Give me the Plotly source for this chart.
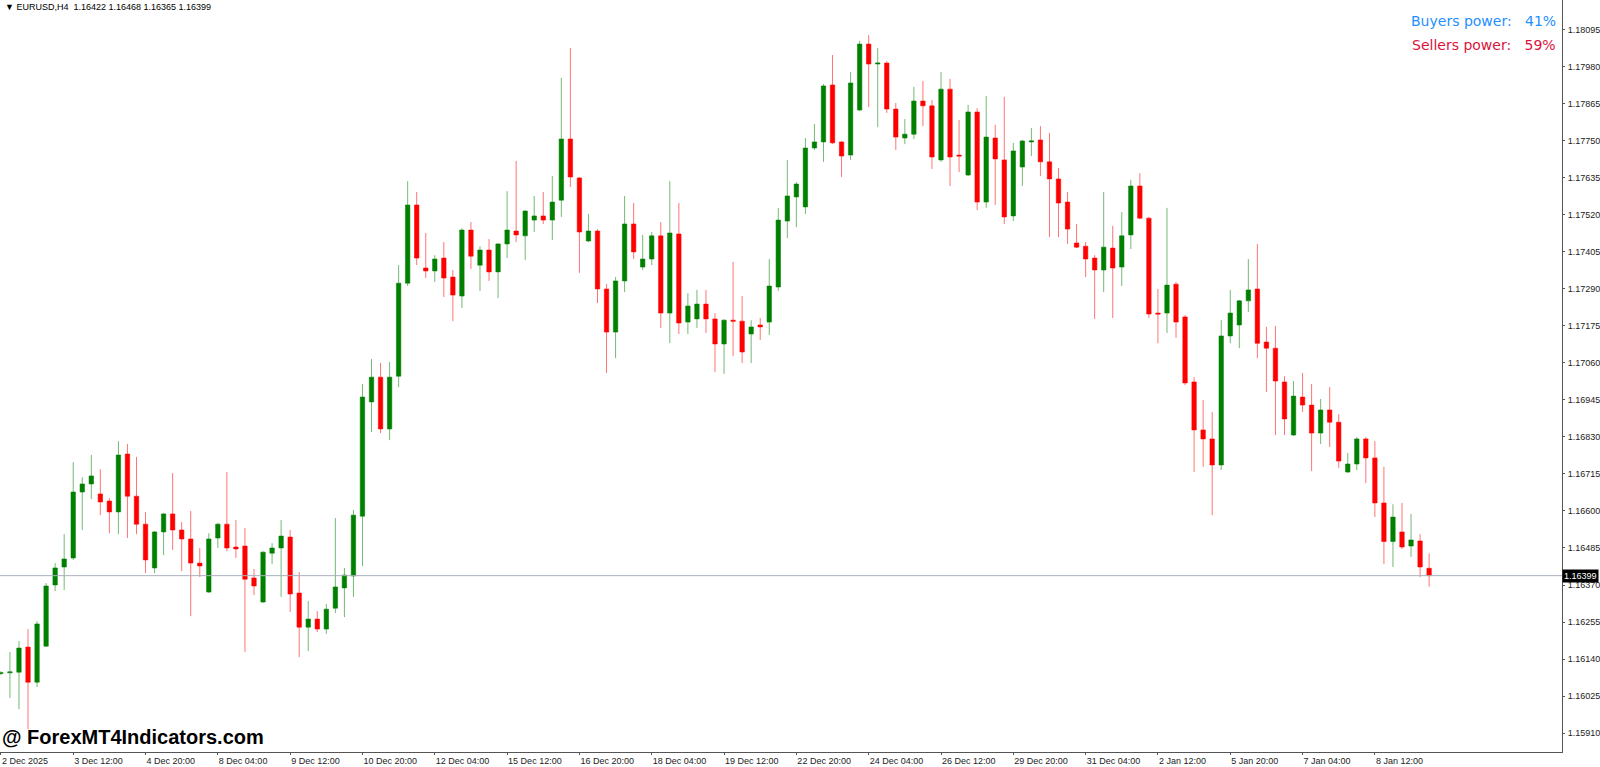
import plotly.graph_objects as go

opens = [1.16095,1.16097,1.16099,1.16177,1.16068,1.16180,1.16370,1.16426,1.16454,1.16659,
1.16684,1.16653,1.16631,1.16597,1.16777,1.16646,1.16559,1.16423,1.16535,1.16591,
1.16541,1.16513,1.16438,1.16348,1.16516,1.16559,1.16488,1.16491,1.16392,1.16317,
1.16469,1.16485,1.16519,1.16345,1.16239,1.16264,1.16233,1.16298,1.16361,1.16398,
1.16584,1.16939,1.17016,1.16855,1.17019,1.17308,1.17551,1.17355,1.17346,1.17386,
1.17327,1.17268,1.17473,1.17364,1.17411,1.17343,1.17430,1.17470,1.17455,1.17504,
1.17517,1.17504,1.17566,1.17756,1.17635,1.17439,1.17470,1.17290,1.17156,1.17315,
1.17492,1.17358,1.17383,1.17455,1.17215,1.17461,1.17187,1.17197,1.17243,1.17197,
1.17119,1.17193,1.17190,1.17150,1.17178,1.17187,1.17296,1.17501,1.17576,1.17545,
1.17728,1.17747,1.17924,1.17747,1.17706,1.17846,1.18051,1.17989,1.17992,1.17849,
1.17759,1.17771,1.17874,1.17859,1.17691,1.17911,1.17706,1.17644,1.17840,1.17560,
1.17759,1.17691,1.17517,1.17669,1.17747,1.17753,1.17685,1.17632,1.17560,1.17433,
1.17423,1.17386,1.17349,1.17417,1.17358,1.17458,1.17610,1.17510,1.17215,1.17215,
1.17305,1.17203,1.17001,1.16852,1.16824,1.16743,1.17144,1.17178,1.17253,1.17290,
1.17125,1.17106,1.17001,1.16836,1.16954,1.16929,1.16842,1.16914,1.16876,1.16721,
1.16746,1.16824,1.16765,1.16625,1.16505,1.16535,1.16491,1.16507,1.16422]
highs = [1.16102,1.16162,1.16196,1.16233,1.16258,1.16376,1.16438,1.16528,1.16752,1.16705,
1.16774,1.16730,1.16640,1.16817,1.16808,1.16768,1.16597,1.16538,1.16594,1.16718,
1.16566,1.16600,1.16485,1.16531,1.16563,1.16721,1.16572,1.16547,1.16420,1.16475,
1.16500,1.16572,1.16541,1.16410,1.16320,1.16289,1.16311,1.16578,1.16423,1.16603,
1.16995,1.17072,1.17060,1.17063,1.17364,1.17625,1.17591,1.17464,1.17395,1.17436,
1.17349,1.17479,1.17498,1.17423,1.17445,1.17433,1.17594,1.17688,1.17535,1.17579,
1.17591,1.17641,1.17946,1.18039,1.17638,1.17523,1.17476,1.17305,1.17327,1.17579,
1.17557,1.17458,1.17467,1.17498,1.17625,1.17557,1.17277,1.17287,1.17287,1.17215,
1.17196,1.17374,1.17268,1.17193,1.17200,1.17383,1.17542,1.17691,1.17622,1.17759,
1.17803,1.17927,1.18017,1.17750,1.17964,1.18061,1.18079,1.18039,1.17998,1.17868,
1.17818,1.17918,1.17936,1.17877,1.17964,1.17943,1.17815,1.17862,1.17852,1.17890,
1.17800,1.17887,1.17744,1.17753,1.17790,1.17796,1.17775,1.17666,1.17591,1.17492,
1.17436,1.17395,1.17591,1.17486,1.17529,1.17629,1.17650,1.17514,1.17290,1.17542,
1.17312,1.17209,1.17016,1.16945,1.16908,1.17193,1.17287,1.17256,1.17383,1.17430,
1.17172,1.17175,1.17019,1.17004,1.17029,1.16995,1.16948,1.16985,1.16901,1.16780,
1.16830,1.16830,1.16817,1.16737,1.16621,1.16625,1.16591,1.16528,1.16468]
lows = [1.16090,1.16019,1.15984,1.15922,1.16053,1.16178,1.16351,1.16354,1.16448,1.16541,
1.16637,1.16587,1.16531,1.16528,1.16516,1.16528,1.16407,1.16407,1.16463,1.16479,
1.16413,1.16273,1.16395,1.16345,1.16485,1.16475,1.16454,1.16162,1.16339,1.16314,
1.16435,1.16333,1.16286,1.16146,1.16165,1.16224,1.16218,1.16283,1.16270,1.16333,
1.16429,1.16845,1.16842,1.16820,1.16985,1.17299,1.17364,1.17324,1.17312,1.17265,
1.17190,1.17231,1.17352,1.17284,1.17315,1.17262,1.17386,1.17436,1.17380,1.17467,
1.17492,1.17442,1.17514,1.17607,1.17340,1.17436,1.17246,1.17029,1.17075,1.17280,
1.17383,1.17349,1.17364,1.17169,1.17122,1.17150,1.17150,1.17169,1.17153,1.17032,
1.17026,1.17081,1.17060,1.17060,1.17131,1.17147,1.17284,1.17448,1.17482,1.17523,
1.17722,1.17685,1.17740,1.17638,1.17691,1.17843,1.17855,1.17793,1.17837,1.17722,
1.17740,1.17756,1.17796,1.17663,1.17685,1.17610,1.17653,1.17641,1.17535,1.17542,
1.17551,1.17492,1.17501,1.17610,1.17703,1.17641,1.17451,1.17451,1.17430,1.17417,
1.17327,1.17197,1.17280,1.17200,1.17299,1.17414,1.17507,1.17200,1.17121,1.17153,
1.17138,1.16991,1.16721,1.16737,1.16587,1.16727,1.17121,1.17106,1.17218,1.17075,
1.16970,1.16836,1.16836,1.16833,1.16908,1.16724,1.16808,1.16799,1.16734,1.16718,
1.16727,1.16687,1.16581,1.16435,1.16426,1.16482,1.16457,1.16395,1.16365]
closes = [1.16097,1.16100,1.16174,1.16068,1.16249,1.16367,1.16423,1.16451,1.16659,1.16684,
1.16709,1.16628,1.16597,1.16774,1.16646,1.16559,1.16448,1.16535,1.16591,1.16541,
1.16513,1.16438,1.16429,1.16513,1.16559,1.16485,1.16482,1.16388,1.16367,1.16472,
1.16485,1.16522,1.16342,1.16239,1.16264,1.16233,1.16295,1.16364,1.16401,1.16587,
1.16954,1.17016,1.16855,1.17016,1.17308,1.17551,1.17386,1.17346,1.17383,1.17324,
1.17271,1.17473,1.17392,1.17411,1.17343,1.17430,1.17473,1.17458,1.17532,1.17517,
1.17504,1.17560,1.17756,1.17638,1.17467,1.17470,1.17290,1.17156,1.17315,1.17492,
1.17405,1.17383,1.17455,1.17215,1.17464,1.17184,1.17237,1.17243,1.17197,1.17119,
1.17193,1.17190,1.17094,1.17172,1.17172,1.17299,1.17504,1.17579,1.17616,1.17728,
1.17747,1.17921,1.17744,1.17703,1.17930,1.18051,1.17989,1.17992,1.17849,1.17762,
1.17771,1.17874,1.17859,1.17700,1.17911,1.17700,1.17703,1.17840,1.17560,1.17762,
1.17694,1.17514,1.17719,1.17750,1.17750,1.17685,1.17632,1.17557,1.17476,1.17420,
1.17383,1.17349,1.17420,1.17355,1.17455,1.17610,1.17510,1.17212,1.17212,1.17302,
1.17187,1.16998,1.16852,1.16824,1.16743,1.17144,1.17215,1.17253,1.17287,1.17121,
1.17106,1.17004,1.16886,1.16957,1.16929,1.16842,1.16914,1.16876,1.16755,1.16746,
1.16824,1.16765,1.16625,1.16505,1.16581,1.16488,1.16510,1.16426,1.16399]

tick_bars = [0,8,16,24,32,40,48,56,64,72,80,88,96,104,112,120,128,136,144,152]
tick_labels = ["2 Dec 2025","3 Dec 12:00","4 Dec 20:00","8 Dec 04:00","9 Dec 12:00",
"10 Dec 20:00","12 Dec 04:00","15 Dec 12:00","16 Dec 20:00","18 Dec 04:00",
"19 Dec 12:00","22 Dec 20:00","24 Dec 04:00","26 Dec 12:00","29 Dec 20:00",
"31 Dec 04:00","2 Jan 12:00","5 Jan 20:00","7 Jan 04:00","8 Jan 12:00"]
price_ticks = [1.15910,1.16025,1.16140,1.16255,1.16370,1.16485,1.16600,1.16715,1.16830,
1.16945,1.17060,1.17175,1.17290,1.17405,1.17520,1.17635,1.17750,1.17865,1.17980,1.18095]
last_price = 1.16399
buyers_pct = 41
sellers_pct = 59

x = list(range(len(opens)))
fig = go.Figure(go.Candlestick(
    x=x, open=opens, high=highs, low=lows, close=closes,
    increasing=dict(line=dict(color="rgba(0,128,0,0.55)", width=1), fillcolor="#008000"),
    decreasing=dict(line=dict(color="rgba(255,0,0,0.55)", width=1), fillcolor="#ff0000"),
    whiskerwidth=0, showlegend=False, hoverinfo="skip"))

fig.add_hline(y=last_price, line=dict(color="#a8b0bc", width=1))

font = "Liberation Sans, Arial, sans-serif"
fig.update_layout(
    width=1600, height=767, paper_bgcolor="white", plot_bgcolor="white",
    margin=dict(l=0, r=36, t=0, b=15),
    xaxis=dict(range=[-0.1, 172.7], rangeslider=dict(visible=False), tickvals=tick_bars,
               ticktext=tick_labels, ticks="outside", ticklen=2, tickcolor="#555",
               showgrid=False, zeroline=False, showline=True, linecolor="#555", linewidth=1,
               ticklabelposition="outside right", ticklabelstandoff=0,
               tickfont=dict(family=font, size=9, color="#222")),
    yaxis=dict(range=[1.15851, 1.18188], side="right", tickvals=price_ticks,
               ticktext=[f"{v:.5f}" for v in price_ticks], ticks="outside", ticklen=2,
               tickcolor="#555", showgrid=False, zeroline=False, showline=True,
               linecolor="#555", linewidth=1, ticklabelstandoff=1,
               tickfont=dict(family=font, size=9, color="#222")),
)
fig.add_annotation(x=1, xref="paper", y=last_price, yref="y", xanchor="left", showarrow=False,
                   text=f"{last_price:.5f}", bgcolor="black", font=dict(color="white", size=9, family=font),
                   borderpad=1)
fig.add_annotation(x=0.002, xref="paper", y=1.0, yref="paper", xanchor="left", yanchor="top", showarrow=False,
                   text=f"▼ EURUSD,H4  {opens[-1]:.5f} {highs[-1]:.5f} {lows[-1]:.5f} {closes[-1]:.5f}",
                   font=dict(size=9, family=font, color="black"))
fig.add_annotation(x=0.9975, xref="paper", y=0.985, yref="paper", xanchor="right", yanchor="top", showarrow=False,
                   text=f"Buyers power:   {buyers_pct}%", font=dict(size=14, family="Verdana, DejaVu Sans", color="#1e90ff"))
fig.add_annotation(x=0.9975, xref="paper", y=0.953, yref="paper", xanchor="right", yanchor="top", showarrow=False,
                   text=f"Sellers power:   {sellers_pct}%", font=dict(size=14, family="Verdana, DejaVu Sans", color="#dc143c"))
fig.add_annotation(x=0, xref="paper", y=0.003, yref="paper", xanchor="left", yanchor="bottom", showarrow=False,
                   text="<b>@ ForexMT4Indicators.com</b>", font=dict(size=20, family="Liberation Sans, Arial", color="black"))
fig.write_html("out.html", config={"displayModeBar": False})

with open("out.html", encoding="utf-8") as fh:
    html = fh.read()
html = html.replace("<head>", "<head><style>html,body{margin:0;padding:0;overflow:hidden}</style>", 1)
with open("out.html", "w", encoding="utf-8") as fh:
    fh.write(html)
